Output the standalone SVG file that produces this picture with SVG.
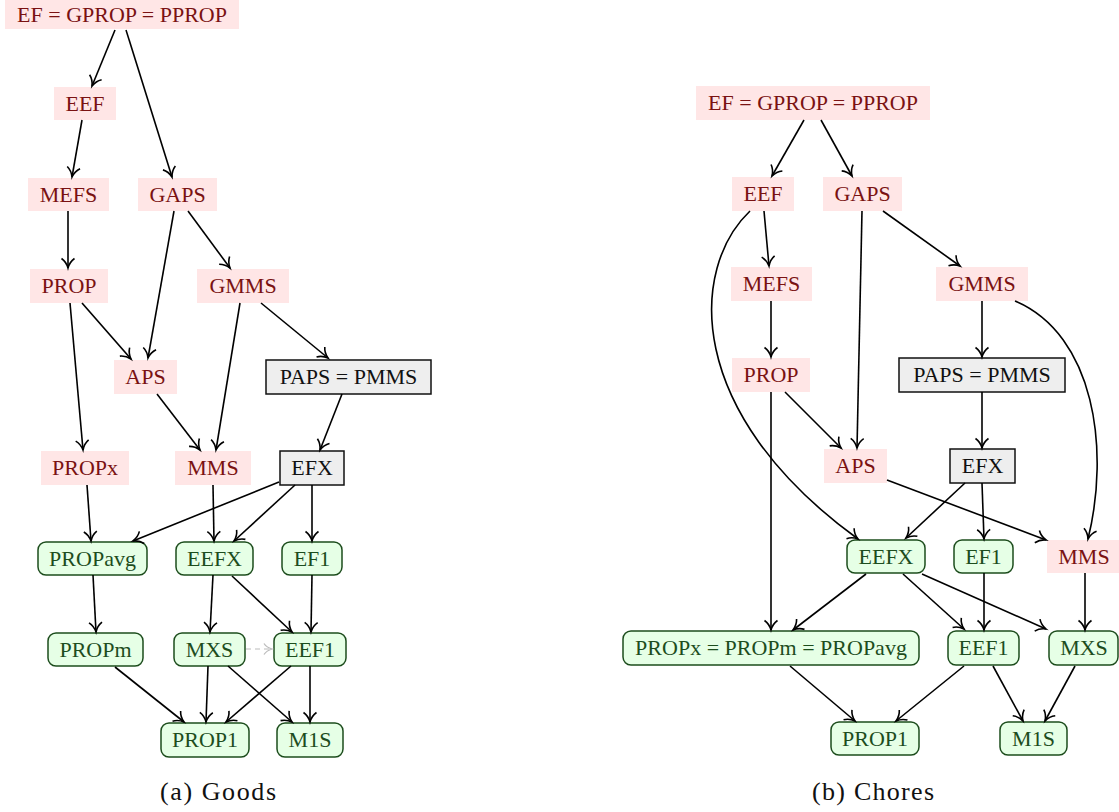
<svg xmlns="http://www.w3.org/2000/svg" width="1119" height="812" viewBox="0 0 1119 812" font-family="'Liberation Serif', serif" font-size="22" text-anchor="middle">
<style>
.p rect{fill:#ffe6e6;stroke:none}
.p text{fill:#7a1212}
.g rect{fill:#eeeeee;stroke:#111;stroke-width:1.5}
.g text{fill:#111}
.n rect{fill:#e6ffe6;stroke:#1d4d1d;stroke-width:1.5}
.n text{fill:#1d4d1d}
.e path{fill:none;stroke:#000;stroke-width:1.6;marker-end:url(#ar)}
.e path.d{stroke:#bbbbbb;stroke-width:1.2;stroke-dasharray:5,4;marker-end:url(#arg)}
.cap{fill:#111}
</style>
<defs>
<marker id="ar" markerWidth="16" markerHeight="16" refX="0" refY="0" viewBox="-12 -8 14 16" orient="auto" markerUnits="userSpaceOnUse">
<path d="M-9.5,-6.5 C-7,-3 -2.5,-0.7 0,0 C-2.5,0.7 -7,3 -9.5,6.5" fill="none" stroke="#000" stroke-width="1.6"/>
</marker>
<marker id="arg" markerWidth="16" markerHeight="16" refX="0" refY="0" viewBox="-12 -8 14 16" orient="auto" markerUnits="userSpaceOnUse">
<path d="M-8,-5.5 C-6,-2.5 -2,-0.6 0,0 C-2,0.6 -6,2.5 -8,5.5" fill="none" stroke="#bbbbbb" stroke-width="1.3"/>
</marker>
</defs>

<!-- Goods -->
<g id="g_ef" class="p"><rect x="5" y="0" width="234" height="29"/><text x="122" y="21.5">EF = GPROP = PPROP</text></g>
<g id="g_eef" class="p"><rect x="54" y="87" width="62" height="33"/><text x="85" y="111">EEF</text></g>
<g id="g_mefs" class="p"><rect x="28" y="178" width="81" height="33"/><text x="68.5" y="202">MEFS</text></g>
<g id="g_gaps" class="p"><rect x="138" y="178" width="79" height="33"/><text x="177.5" y="202">GAPS</text></g>
<g id="g_prop" class="p"><rect x="30" y="269" width="78" height="34"/><text x="69" y="293">PROP</text></g>
<g id="g_gmms" class="p"><rect x="197" y="269" width="92" height="34"/><text x="243" y="293">GMMS</text></g>
<g id="g_aps" class="p"><rect x="114" y="360" width="63" height="34"/><text x="145.5" y="384">APS</text></g>
<g id="g_paps" class="g"><rect x="266" y="360" width="165" height="34"/><text x="348.5" y="384">PAPS = PMMS</text></g>
<g id="g_propx" class="p"><rect x="41" y="451" width="88" height="34"/><text x="85" y="475">PROPx</text></g>
<g id="g_mms" class="p"><rect x="175" y="451" width="76" height="34"/><text x="213" y="475">MMS</text></g>
<g id="g_efx" class="g"><rect x="280" y="451" width="64" height="34"/><text x="312" y="475">EFX</text></g>
<g id="g_propavg" class="n"><rect x="38" y="542" width="109" height="33" rx="8"/><text x="92.5" y="566">PROPavg</text></g>
<g id="g_eefx" class="n"><rect x="176" y="542" width="77" height="33" rx="8"/><text x="214.5" y="566">EEFX</text></g>
<g id="g_ef1" class="n"><rect x="282" y="542" width="60" height="33" rx="8"/><text x="312" y="566">EF1</text></g>
<g id="g_propm" class="n"><rect x="48" y="633" width="95" height="33" rx="8"/><text x="95.5" y="657">PROPm</text></g>
<g id="g_mxs" class="n"><rect x="174" y="633" width="71" height="33" rx="8"/><text x="209.5" y="657">MXS</text></g>
<g id="g_eef1" class="n"><rect x="274" y="633" width="72" height="33" rx="8"/><text x="310" y="657">EEF1</text></g>
<g id="g_prop1" class="n"><rect x="161" y="723" width="88" height="34" rx="8"/><text x="205" y="747">PROP1</text></g>
<g id="g_m1s" class="n"><rect x="277" y="723" width="66" height="34" rx="8"/><text x="310" y="747">M1S</text></g>

<!-- Chores -->
<g id="c_ef" class="p"><rect x="696" y="86" width="234" height="34"/><text x="813" y="110">EF = GPROP = PPROP</text></g>
<g id="c_eef" class="p"><rect x="732" y="177" width="62" height="34"/><text x="763" y="201">EEF</text></g>
<g id="c_gaps" class="p"><rect x="823" y="177" width="79" height="34"/><text x="862.5" y="201">GAPS</text></g>
<g id="c_mefs" class="p"><rect x="731" y="267" width="81" height="34"/><text x="771.5" y="291">MEFS</text></g>
<g id="c_gmms" class="p"><rect x="936" y="267" width="92" height="34"/><text x="982" y="291">GMMS</text></g>
<g id="c_prop" class="p"><rect x="732" y="358" width="78" height="34"/><text x="771" y="382">PROP</text></g>
<g id="c_paps" class="g"><rect x="899" y="358" width="166" height="34"/><text x="982" y="382">PAPS = PMMS</text></g>
<g id="c_aps" class="p"><rect x="824" y="449" width="63" height="34"/><text x="855.5" y="473">APS</text></g>
<g id="c_efx" class="g"><rect x="950" y="449" width="65" height="34"/><text x="982.5" y="473">EFX</text></g>
<g id="c_eefx" class="n"><rect x="847" y="540" width="78" height="33" rx="8"/><text x="886" y="564">EEFX</text></g>
<g id="c_ef1" class="n"><rect x="954" y="540" width="59" height="33" rx="8"/><text x="983.5" y="564">EF1</text></g>
<g id="c_mms" class="p"><rect x="1047" y="540" width="74" height="33"/><text x="1084" y="564">MMS</text></g>
<g id="c_propx" class="n"><rect x="623" y="631" width="296" height="34" rx="8"/><text x="771" y="655">PROPx = PROPm = PROPavg</text></g>
<g id="c_eef1" class="n"><rect x="948" y="631" width="71" height="34" rx="8"/><text x="983.5" y="655">EEF1</text></g>
<g id="c_mxs" class="n"><rect x="1049" y="631" width="69" height="34" rx="8"/><text x="1084" y="655">MXS</text></g>
<g id="c_prop1" class="n"><rect x="831" y="722" width="88" height="33" rx="8"/><text x="875" y="746">PROP1</text></g>
<g id="c_m1s" class="n"><rect x="1000" y="722" width="67" height="33" rx="8"/><text x="1033.5" y="746">M1S</text></g>

<g id="connectors" class="e">
<!-- Goods -->
<path d="M115,30 L92,86"/>
<path d="M126,30 L172,177"/>
<path d="M82,120 L72,177"/>
<path d="M68,211 L68,268"/>
<path d="M174,211 L148,358"/>
<path d="M188,211 L230,268"/>
<path d="M82,303 L131,359"/>
<path d="M70,303 L83,450"/>
<path d="M240,303 L216,450"/>
<path d="M261,303 L328,358"/>
<path d="M157,394 L200,450"/>
<path d="M342,394 L320,450"/>
<path d="M87,485 L91,541"/>
<path d="M279,482 L133,541"/>
<path d="M213,485 L214,541"/>
<path d="M295,485 L234,541"/>
<path d="M312,485 L312,541"/>
<path d="M93,575 L96,632"/>
<path d="M213,575 L210,632"/>
<path d="M232,576 L292,632"/>
<path d="M312,575 L311,632"/>
<path class="d" d="M246,649 L272,649"/>
<path d="M115,667 L184,722"/>
<path d="M208,666 L206,722"/>
<path d="M228,666 L292,722"/>
<path d="M291,666 L226,722"/>
<path d="M310,666 L310,722"/>
<!-- Chores -->
<path d="M804,120 L772,176"/>
<path d="M821,120 L852,176"/>
<path d="M764,211 L769,266"/>
<path d="M750,211 C690,268 683,412 858,539"/>
<path d="M771,301 L771,357"/>
<path d="M862,211 L857,448"/>
<path d="M883,211 L960,266"/>
<path d="M982,301 L982,357"/>
<path d="M1015,301 C1095,335 1110,450 1088,539"/>
<path d="M785,392 L841,448"/>
<path d="M771,392 L771,630"/>
<path d="M982,392 L982,448"/>
<path d="M887,480 L1046,540"/>
<path d="M965,483 L906,538"/>
<path d="M982,483 L984,539"/>
<path d="M866,574 L793,630"/>
<path d="M903,574 L964,629"/>
<path d="M922,574 L1046,629"/>
<path d="M984,573 L984,630"/>
<path d="M1085,573 L1085,630"/>
<path d="M790,666 L855,721"/>
<path d="M964,666 L896,721"/>
<path d="M993,666 L1023,721"/>
<path d="M1075,666 L1045,721"/>
</g>

<text class="cap" x="218" y="800" font-size="26" textLength="116" lengthAdjust="spacing">(a) Goods</text>
<text class="cap" x="873" y="800" font-size="26" textLength="122" lengthAdjust="spacing">(b) Chores</text>
</svg>
